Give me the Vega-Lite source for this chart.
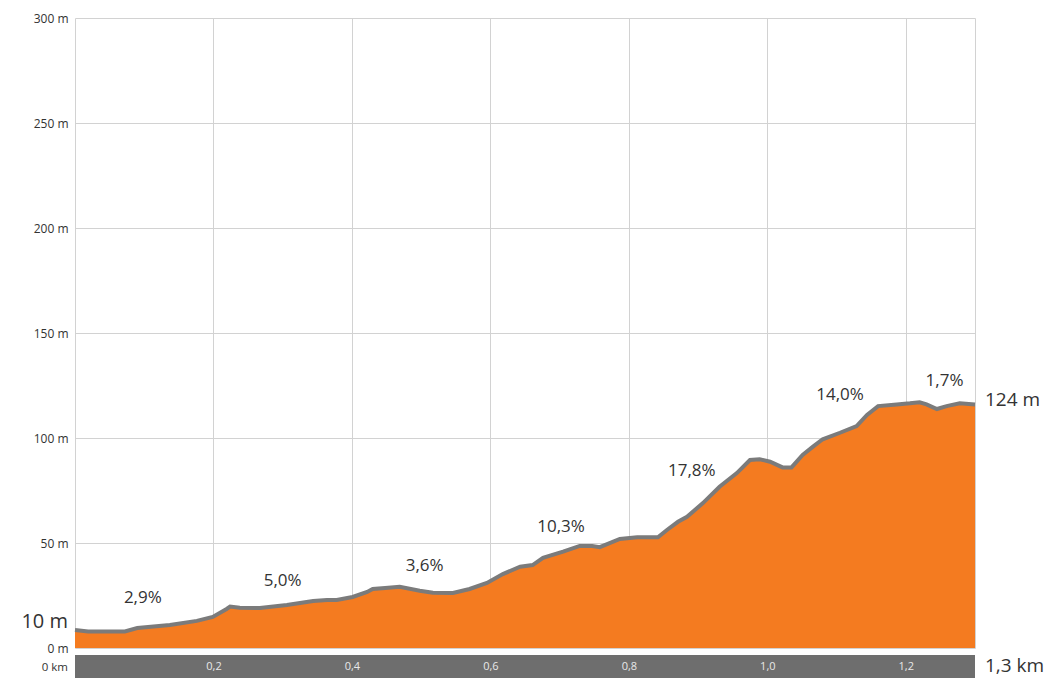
{
  "$schema": "https://vega.github.io/schema/vega-lite/v6.json",
  "autosize": "none",
  "width": 900,
  "height": 630,
  "padding": {"left": 75, "top": 18, "right": 87, "bottom": 36},
  "background": "white",
  "config": {
    "view": {"stroke": null},
    "font": "Open Sans",
    "axis": {"labelFont": "Open Sans", "gridColor": "#d2d2d2", "gridWidth": 1}
  },
  "resolve": {"axis": {"x": "independent"}},
  "datasets": {
    "profile": [
      {"km": 0.000, "elev": 8.6},
      {"km": 0.019, "elev": 7.9},
      {"km": 0.072, "elev": 7.9},
      {"km": 0.090, "elev": 9.5},
      {"km": 0.137, "elev": 11.0},
      {"km": 0.176, "elev": 12.9},
      {"km": 0.199, "elev": 14.8},
      {"km": 0.219, "elev": 18.6},
      {"km": 0.224, "elev": 19.7},
      {"km": 0.238, "elev": 19.2},
      {"km": 0.267, "elev": 19.0},
      {"km": 0.306, "elev": 20.5},
      {"km": 0.344, "elev": 22.4},
      {"km": 0.364, "elev": 22.9},
      {"km": 0.378, "elev": 22.9},
      {"km": 0.401, "elev": 24.3},
      {"km": 0.422, "elev": 26.7},
      {"km": 0.430, "elev": 28.1},
      {"km": 0.448, "elev": 28.6},
      {"km": 0.469, "elev": 29.2},
      {"km": 0.498, "elev": 27.3},
      {"km": 0.517, "elev": 26.3},
      {"km": 0.546, "elev": 26.2},
      {"km": 0.570, "elev": 28.1},
      {"km": 0.595, "elev": 31.0},
      {"km": 0.618, "elev": 35.2},
      {"km": 0.643, "elev": 38.7},
      {"km": 0.661, "elev": 39.5},
      {"km": 0.676, "elev": 42.9},
      {"km": 0.705, "elev": 45.9},
      {"km": 0.729, "elev": 48.6},
      {"km": 0.747, "elev": 48.6},
      {"km": 0.758, "elev": 48.0},
      {"km": 0.787, "elev": 51.9},
      {"km": 0.812, "elev": 52.7},
      {"km": 0.842, "elev": 52.7},
      {"km": 0.855, "elev": 56.2},
      {"km": 0.871, "elev": 60.1},
      {"km": 0.884, "elev": 62.5},
      {"km": 0.907, "elev": 69.0},
      {"km": 0.931, "elev": 76.8},
      {"km": 0.956, "elev": 83.3},
      {"km": 0.975, "elev": 89.5},
      {"km": 0.989, "elev": 89.9},
      {"km": 1.004, "elev": 88.7},
      {"km": 1.022, "elev": 86.0},
      {"km": 1.035, "elev": 86.0},
      {"km": 1.051, "elev": 91.9},
      {"km": 1.066, "elev": 95.9},
      {"km": 1.080, "elev": 99.4},
      {"km": 1.105, "elev": 102.5},
      {"km": 1.129, "elev": 105.7},
      {"km": 1.144, "elev": 111.0},
      {"km": 1.160, "elev": 115.2},
      {"km": 1.187, "elev": 116.0},
      {"km": 1.206, "elev": 116.5},
      {"km": 1.220, "elev": 117.0},
      {"km": 1.230, "elev": 116.0},
      {"km": 1.245, "elev": 113.8},
      {"km": 1.259, "elev": 115.2},
      {"km": 1.278, "elev": 116.5},
      {"km": 1.300, "elev": 116.0}
    ],
    "grades": [
      {"km": 0.098, "elev": 23.8, "label": "2,9%"},
      {"km": 0.300, "elev": 31.9, "label": "5,0%"},
      {"km": 0.505, "elev": 39.0, "label": "3,6%"},
      {"km": 0.702, "elev": 57.6, "label": "10,3%"},
      {"km": 0.891, "elev": 84.3, "label": "17,8%"},
      {"km": 1.105, "elev": 120.5, "label": "14,0%"},
      {"km": 1.256, "elev": 127.1, "label": "1,7%"}
    ],
    "leftNotes": [
      {"km": 0, "elev": 12.4, "label": "10 m", "size": 20},
      {"km": 0, "elev": -9.3, "label": "0 km", "size": 11.5}
    ],
    "rightNotes": [
      {"km": 1.3, "elev": 118.1, "label": "124 m", "size": 19},
      {"km": 1.3, "elev": -8.8, "label": "1,3 km", "size": 19}
    ]
  },
  "layer": [
    {
      "data": {"name": "profile"},
      "mark": {"type": "area", "color": "#F47B20", "opacity": 1, "line": {"color": "#7b7b7b", "strokeWidth": 4}},
      "encoding": {
        "x": {
          "field": "km", "type": "quantitative",
          "scale": {"domain": [0, 1.3], "nice": false, "zero": false},
          "axis": {
            "title": null,
            "orient": "bottom",
            "values": [0, 0.2, 0.4, 0.6, 0.8, 1.0, 1.2, 1.3],
            "grid": true,
            "labels": false,
            "ticks": false,
            "domain": false
          }
        },
        "y": {
          "field": "elev", "type": "quantitative",
          "scale": {"domain": [0, 300], "nice": false},
          "axis": {
            "title": null,
            "values": [0, 50, 100, 150, 200, 250, 300],
            "labelExpr": "datum.value + ' m'",
            "grid": true,
            "ticks": false,
            "domain": false,
            "labelPadding": 7,
            "labelColor": "#333333",
            "labelFontSize": 12
          }
        }
      }
    },
    {
      "data": {"values": [{}]},
      "mark": {"type": "rect", "color": "#6e6e6e"},
      "encoding": {
        "x": {
          "datum": 0, "type": "quantitative",
          "axis": {
            "title": null,
            "orient": "bottom",
            "values": [0.2, 0.4, 0.6, 0.8, 1.0, 1.2],
            "labelExpr": "replace(format(datum.value, '.1f'), '.', ',')",
            "grid": false,
            "ticks": false,
            "tickSize": 0,
            "domain": false,
            "offset": 18.5,
            "labelBaseline": "middle",
            "labelPadding": 0,
            "labelColor": "#e8e8e8",
            "labelFontSize": 11,
            "zindex": 1
          }
        },
        "x2": {"datum": 1.3},
        "y": {"datum": -3.33, "type": "quantitative", "axis": {"title": null}},
        "y2": {"datum": -14.3}
      }
    },
    {
      "data": {"name": "grades"},
      "mark": {"type": "text", "fontSize": 17, "color": "#333333", "baseline": "middle", "align": "center"},
      "encoding": {
        "x": {"field": "km", "type": "quantitative", "axis": null},
        "y": {"field": "elev", "type": "quantitative", "axis": {"title": null}},
        "text": {"field": "label"}
      }
    },
    {
      "data": {"name": "leftNotes"},
      "mark": {"type": "text", "color": "#333333", "baseline": "middle", "align": "right", "dx": -7},
      "encoding": {
        "x": {"field": "km", "type": "quantitative", "axis": null},
        "y": {"field": "elev", "type": "quantitative", "axis": {"title": null}},
        "text": {"field": "label"},
        "size": {"field": "size", "type": "quantitative", "scale": null}
      }
    },
    {
      "data": {"name": "rightNotes"},
      "mark": {"type": "text", "color": "#333333", "baseline": "middle", "align": "left", "dx": 10},
      "encoding": {
        "x": {"field": "km", "type": "quantitative", "axis": null},
        "y": {"field": "elev", "type": "quantitative", "axis": {"title": null}},
        "text": {"field": "label"},
        "size": {"field": "size", "type": "quantitative", "scale": null}
      }
    }
  ]
}
